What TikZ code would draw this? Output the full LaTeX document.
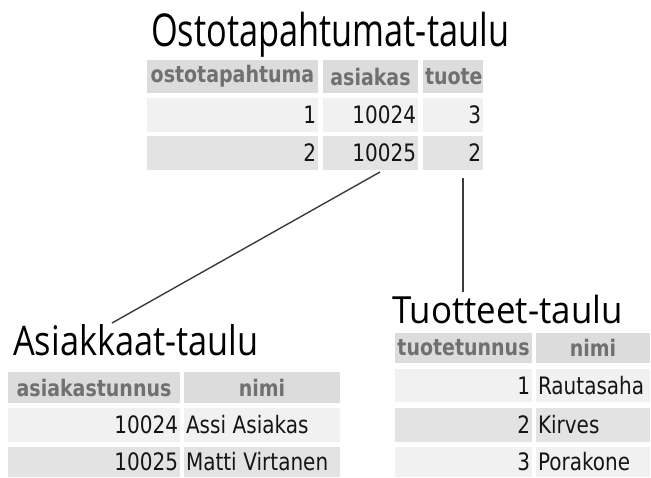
\documentclass[tikz,border=0pt]{standalone}
\usepackage{fontspec}
\usepackage{graphicx}
\newfontfamily\titlefont{Open Sans}
\newfontfamily\tabfont{DejaVu Sans}
\definecolor{hdrbg}{HTML}{DCDCDC}
\definecolor{rowa}{HTML}{F1F1F1}
\definecolor{rowb}{HTML}{E3E3E3}
\definecolor{hdrtxt}{HTML}{707070}
\definecolor{datatxt}{HTML}{151515}
\definecolor{linkline}{HTML}{3C3C3C}
\newcommand\vst[1]{\scalebox{1}[1.2]{#1}}
% name, x, y, w, h, style, text
\newcommand\tcell[7]{%
  \pgfmathsetlengthmacro\celltw{#4pt-4pt}%
  \node[cellbase, #6, minimum width=#4pt, minimum height=#5pt, text width=\celltw] (#1) at (#2,#3) {\vst{#7}};}
\tikzset{
  cellbase/.style={anchor=north west, inner xsep=2pt, inner ysep=0pt, outer sep=0pt},
  hdr/.style={fill=hdrbg, text=hdrtxt, align=center, font=\tabfont\bfseries\fontsize{19}{22}\selectfont},
  ra/.style={fill=rowa, text=datatxt, font=\tabfont\fontsize{20}{24}\selectfont},
  rb/.style={fill=rowb, text=datatxt, font=\tabfont\fontsize{20}{24}\selectfont},
  num/.style={align=right},
  txt/.style={align=left},
  ttlstyle/.style={anchor=base west, inner sep=0pt, text=black, font=\titlefont\fontsize{34}{40}\selectfont},
  link/.style={draw=linkline, line width=1.4pt}
}
\begin{document}
\begin{tikzpicture}[x=1pt,y=-1pt]
\useasboundingbox (0,0) rectangle (651,477);
\fill[white] (0,0) rectangle (651,477);
\clip (0,0) rectangle (651,477);

% Ostotapahtumat
\node[ttlstyle] (ttlo) at (151,46) {\scalebox{1.01}[1.33]{Ostotapahtumat-taulu}};
\tcell{t01}{147}{60}{171}{33}{hdr}{ostotapahtuma}
\tcell{t02}{323}{60}{95}{33}{hdr}{asiakas}
\tcell{t03}{423}{60}{60}{33}{hdr}{tuote}
\tcell{t11}{147}{98}{171}{34}{ra,num}{1}
\tcell{t12}{323}{98}{95}{34}{ra,num}{10024}
\tcell{t13}{423}{98}{60}{34}{ra,num}{3}
\tcell{t21}{147}{136}{171}{34}{rb,num}{2}
\tcell{t22}{323}{136}{95}{34}{rb,num}{10025}
\tcell{t23}{423}{136}{60}{34}{rb,num}{2}

% Asiakkaat
\node[ttlstyle] (ttla) at (13,355) {\scalebox{1.01}[1.2]{Asiakkaat-taulu}};
\tcell{a01}{8}{372}{172}{31}{hdr}{asiakastunnus}
\tcell{a02}{184}{372}{156}{31}{hdr}{nimi}
\tcell{a11}{8}{408}{172}{34}{ra,num}{10024}
\tcell{a12}{184}{408}{156}{34}{ra,txt}{Assi Asiakas}
\tcell{a21}{8}{447}{172}{30}{rb,num}{10025}
\tcell{a22}{184}{447}{156}{30}{rb,txt}{Matti Virtanen}

% Tuotteet
\node[ttlstyle] (ttlp) at (392,323) {\scalebox{1.025}[1.1]{Tuotteet-taulu}};
\tcell{p01}{395}{333}{137}{30}{hdr}{tuotetunnus}
\tcell{p02}{536}{333}{114}{30}{hdr}{nimi}
\tcell{p11}{395}{369}{137}{33}{ra,num}{1}
\tcell{p12}{536}{369}{114}{33}{ra,txt}{Rautasaha}
\tcell{p21}{395}{408}{137}{34}{rb,num}{2}
\tcell{p22}{536}{408}{114}{34}{rb,txt}{Kirves}
\tcell{p31}{395}{447}{137}{30}{ra,num}{3}
\tcell{p32}{536}{447}{114}{30}{ra,txt}{Porakone}

% connectors
\coordinate (l1a) at ([xshift=9.5pt,yshift=-2pt]t22.south);
\coordinate (l1b) at (112,323);
\coordinate (l2a) at ([xshift=10pt,yshift=-8pt]t23.south);
\coordinate (l2b) at (463,292);
\draw[link] (l1a) -- (l1b);
\draw[link] (l2a) -- (l2b);
\end{tikzpicture}
\end{document}
